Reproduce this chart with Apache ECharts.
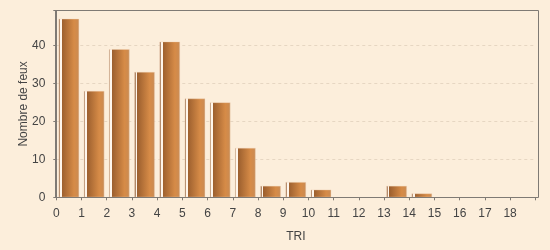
<!DOCTYPE html>
<html>
<head>
<meta charset="utf-8">
<script src="https://cdn.jsdelivr.net/npm/echarts@6/dist/echarts.min.js"></script>
<style>
html,body{margin:0;padding:0;background:#FCEEDB;}
#c{width:550px;height:250px;}
</style>
</head>
<body>
<div id="c"></div>
<script>
var binStarts = [0,1,2,3,4,5,6,7,8,9,10,11,12,13,14,15,16,17,18];
var counts = [47,28,39,33,41,26,25,13,3,4,2,0,0,3,1,0,0,0,0];
var yTicks = [0,10,20,30,40];
var xTicks = [0,1,2,3,4,5,6,7,8,9,10,11,12,13,14,15,16,17,18];

var chart = echarts.init(document.getElementById('c'), null, {renderer:'canvas'});
var barColor = new echarts.graphic.LinearGradient(0,0,1,0,[
  {offset:0, color:'#B08868'},
  {offset:0.06, color:'#B08868'},
  {offset:0.06, color:'#FFF6EC'},
  {offset:0.15, color:'#FFF6EC'},
  {offset:0.15, color:'#9C5F2E'},
  {offset:0.75, color:'#D68B47'},
  {offset:0.92, color:'#CE8B4F'},
  {offset:1, color:'#C9976A'}
]);
var data = binStarts.map(function(b,i){ return counts[i] > 0 ? [b+0.5, counts[i]] : null; }).filter(function(d){return d;});

chart.setOption({
  backgroundColor:'#FCEEDB',
  animation:false,
  grid:{left:56.3, right:14.7, top:10.5, bottom:52.7},
  xAxis:{
    type:'value', min:0, max:19, interval:1, offset:3.5,
    name:'TRI', nameLocation:'middle', nameGap:30, nameMoveOverlap:false,
    nameTextStyle:{color:'#444', fontSize:12, fontFamily:'Liberation Sans'},
    axisLine:{show:true, lineStyle:{color:'#7F7A74'}},
    axisTick:{show:true, length:3, lineStyle:{color:'#7F7A74'}},
    axisLabel:{color:'#444', fontSize:12, fontFamily:'Liberation Sans', margin:7,
      formatter:function(v){ return xTicks.indexOf(v) >= 0 ? String(v) : ''; }},
    splitLine:{show:false}
  },
  yAxis:{
    type:'value', min:0, max:49.2, interval:10, offset:4,
    name:'Nombre de feux', nameLocation:'middle', nameGap:22.5, nameMoveOverlap:false,
    nameTextStyle:{color:'#444', fontSize:12, fontFamily:'Liberation Sans'},
    axisLine:{show:true, lineStyle:{color:'#7F7A74'}},
    axisTick:{show:true, length:3, lineStyle:{color:'#7F7A74'}},
    axisLabel:{color:'#444', fontSize:12, fontFamily:'Liberation Sans', margin:7,
      formatter:function(v){ return yTicks.indexOf(v) >= 0 ? String(v) : ''; }},
    splitLine:{show:true, lineStyle:{color:'#E6D6C2', type:[3,3], width:1}}
  },
  series:[{
    type:'bar', data:data, barWidth:20.5,
    itemStyle:{color:barColor, borderColor:'rgba(240,210,180,0.7)', borderWidth:0.5}
  }],
  graphic:[{
    type:'rect', z:100, silent:true,
    shape:{x:55.5, y:10.5, width:483, height:187},
    style:{fill:'transparent', stroke:'#7F7A74', lineWidth:1}
  }]
});
</script>
</body>
</html>
